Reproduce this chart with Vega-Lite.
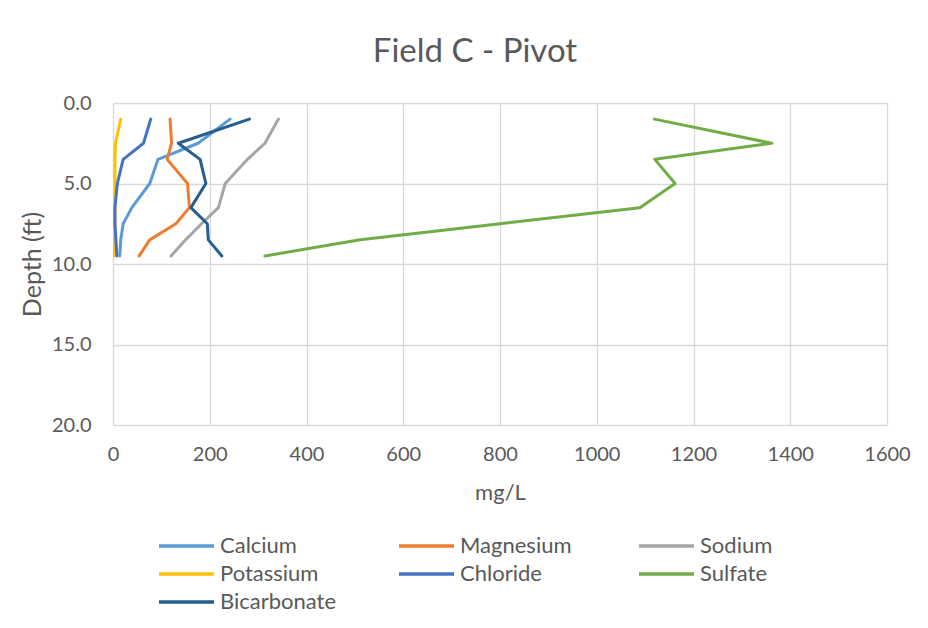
{
  "$schema": "https://vega.github.io/schema/vega-lite/v6.json",
  "width": 774,
  "height": 322,
  "autosize": {"type": "none"},
  "padding": {"left": 113, "top": 103, "right": 41, "bottom": 203},
  "background": "white",
  "title": {"text": "Field C - Pivot", "fontSize": 33, "font": "Lato", "fontWeight": "normal", "color": "#595959", "offset": 24, "anchor": "middle", "dx": -25},
  "data": {"values": [
    {"ion": "Calcium", "depth": 1.0, "mg": 242},
    {"ion": "Calcium", "depth": 2.5, "mg": 176},
    {"ion": "Calcium", "depth": 3.5, "mg": 93},
    {"ion": "Calcium", "depth": 5.0, "mg": 76},
    {"ion": "Calcium", "depth": 6.5, "mg": 39},
    {"ion": "Calcium", "depth": 7.5, "mg": 21},
    {"ion": "Calcium", "depth": 8.5, "mg": 16},
    {"ion": "Calcium", "depth": 9.5, "mg": 14},
    {"ion": "Magnesium", "depth": 1.0, "mg": 118},
    {"ion": "Magnesium", "depth": 2.5, "mg": 121},
    {"ion": "Magnesium", "depth": 3.5, "mg": 112},
    {"ion": "Magnesium", "depth": 5.0, "mg": 154},
    {"ion": "Magnesium", "depth": 6.5, "mg": 158},
    {"ion": "Magnesium", "depth": 7.5, "mg": 130},
    {"ion": "Magnesium", "depth": 8.5, "mg": 76},
    {"ion": "Magnesium", "depth": 9.5, "mg": 54},
    {"ion": "Sodium", "depth": 1.0, "mg": 342},
    {"ion": "Sodium", "depth": 2.5, "mg": 314},
    {"ion": "Sodium", "depth": 3.5, "mg": 278},
    {"ion": "Sodium", "depth": 5.0, "mg": 232},
    {"ion": "Sodium", "depth": 6.5, "mg": 218},
    {"ion": "Sodium", "depth": 7.5, "mg": 183},
    {"ion": "Sodium", "depth": 8.5, "mg": 150},
    {"ion": "Sodium", "depth": 9.5, "mg": 120},
    {"ion": "Potassium", "depth": 1.0, "mg": 16},
    {"ion": "Potassium", "depth": 2.5, "mg": 5},
    {"ion": "Potassium", "depth": 3.5, "mg": 4},
    {"ion": "Potassium", "depth": 5.0, "mg": 4},
    {"ion": "Potassium", "depth": 6.5, "mg": 4},
    {"ion": "Potassium", "depth": 7.5, "mg": 4},
    {"ion": "Potassium", "depth": 8.5, "mg": 4},
    {"ion": "Potassium", "depth": 9.5, "mg": 3},
    {"ion": "Chloride", "depth": 1.0, "mg": 78},
    {"ion": "Chloride", "depth": 2.5, "mg": 63},
    {"ion": "Chloride", "depth": 3.5, "mg": 21},
    {"ion": "Chloride", "depth": 5.0, "mg": 9},
    {"ion": "Chloride", "depth": 6.5, "mg": 4},
    {"ion": "Chloride", "depth": 7.5, "mg": 4},
    {"ion": "Chloride", "depth": 8.5, "mg": 6},
    {"ion": "Chloride", "depth": 9.5, "mg": 8},
    {"ion": "Sulfate", "depth": 1.0, "mg": 1119},
    {"ion": "Sulfate", "depth": 2.5, "mg": 1362},
    {"ion": "Sulfate", "depth": 3.5, "mg": 1120},
    {"ion": "Sulfate", "depth": 5.0, "mg": 1162},
    {"ion": "Sulfate", "depth": 6.5, "mg": 1089},
    {"ion": "Sulfate", "depth": 7.5, "mg": 800},
    {"ion": "Sulfate", "depth": 8.5, "mg": 511},
    {"ion": "Sulfate", "depth": 9.5, "mg": 314},
    {"ion": "Bicarbonate", "depth": 1.0, "mg": 282},
    {"ion": "Bicarbonate", "depth": 2.5, "mg": 135},
    {"ion": "Bicarbonate", "depth": 3.5, "mg": 180},
    {"ion": "Bicarbonate", "depth": 5.0, "mg": 192},
    {"ion": "Bicarbonate", "depth": 6.5, "mg": 161},
    {"ion": "Bicarbonate", "depth": 7.5, "mg": 195},
    {"ion": "Bicarbonate", "depth": 8.5, "mg": 197},
    {"ion": "Bicarbonate", "depth": 9.5, "mg": 225}
  ]},
  "mark": {"type": "line", "strokeWidth": 3, "strokeCap": "round", "strokeJoin": "round"},
  "encoding": {
    "x": {"field": "mg", "type": "quantitative",
      "scale": {"domain": [0, 1600], "nice": false, "zero": true},
      "axis": {"values": [0, 200, 400, 600, 800, 1000, 1200, 1400, 1600], "format": "d", "title": "mg/L", "titleFontSize": 22, "titleFont": "Lato", "titleFontWeight": "normal", "titleColor": "#595959", "titlePadding": 18, "labelFont": "Lato", "labelFontSize": 20, "labelColor": "#595959", "labelPadding": 19, "ticks": false, "domain": false, "gridColor": "#D9D9D9", "gridWidth": 1.3, "labelFlush": false}},
    "y": {"field": "depth", "type": "quantitative",
      "scale": {"domain": [0, 20], "reverse": true, "nice": false},
      "axis": {"values": [0, 5, 10, 15, 20], "format": ".1f", "title": "Depth (ft)", "titleFontSize": 25, "titleFont": "Lato", "titleFontWeight": "normal", "titleColor": "#595959", "titlePadding": 6, "labelFont": "Lato", "labelFontSize": 20, "labelColor": "#595959", "labelPadding": 22, "ticks": false, "domain": false, "gridColor": "#D9D9D9", "gridWidth": 1.3, "labelFlush": false}},
    "color": {"field": "ion", "type": "nominal",
      "scale": {"domain": ["Calcium", "Magnesium", "Sodium", "Potassium", "Chloride", "Sulfate", "Bicarbonate"],
        "range": ["#5B9BD5", "#ED7D31", "#A5A5A5", "#FFC000", "#4472C4", "#70AD47", "#255E91"]},
      "legend": {"title": null, "orient": "none", "legendX": 44, "legendY": 432, "columns": 3, "direction": "horizontal", "symbolType": "M-1,0H1", "symbolSize": 3025, "symbolStrokeWidth": 3.5, "labelFont": "Lato", "labelFontSize": 22, "labelColor": "#595959", "labelOffset": 4, "columnPadding": 60, "rowPadding": 6, "clipHeight": 22, "labelLimit": 300, "symbolLimit": 0}},
    "order": {"field": "depth", "type": "quantitative"}
  },
  "config": {"view": {"stroke": null}, "legend": {"gridAlign": "all"}}
}
